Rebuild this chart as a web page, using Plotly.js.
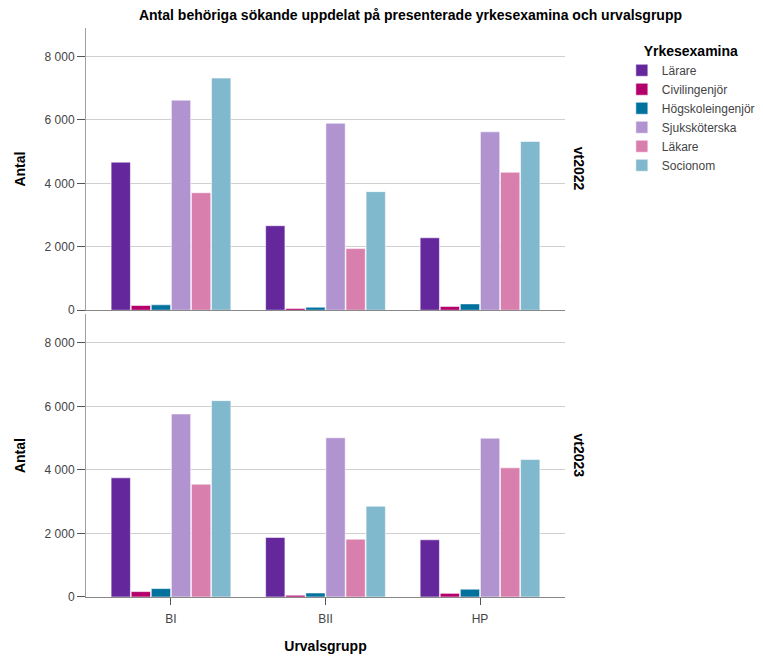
<!DOCTYPE html>
<html>
<head>
<meta charset="utf-8">
<script src="https://cdn.plot.ly/plotly-3.0.1.min.js"></script>
<style>html,body{margin:0;padding:0;background:#fff;}#chart{width:763px;height:659px;}</style>
</head>
<body>
<div id="chart"></div>
<script>
// Data
const categories = ["BI", "BII", "HP"];
const seriesNames = ["Lärare", "Civilingenjör", "Högskoleingenjör", "Sjuksköterska", "Läkare", "Socionom"];
const seriesColors = ["#64279c", "#b4006a", "#00729d", "#b193d0", "#d87fae", "#80b8ce"];
const panels = ["vt2022", "vt2023"];

const lärare_vt2022 = [4670, 2665, 2285];
const civilingenjör_vt2022 = [150, 55, 120];
const högskoleingenjör_vt2022 = [170, 95, 200];
const sjuksköterska_vt2022 = [6625, 5895, 5625];
const läkare_vt2022 = [3705, 1945, 4350];
const socionom_vt2022 = [7320, 3740, 5320];

const lärare_vt2023 = [3750, 1875, 1800];
const civilingenjör_vt2023 = [170, 55, 115];
const högskoleingenjör_vt2023 = [265, 125, 245];
const sjuksköterska_vt2023 = [5760, 5010, 5000];
const läkare_vt2023 = [3550, 1820, 4065];
const socionom_vt2023 = [6180, 2855, 4325];

const values2022 = [lärare_vt2022, civilingenjör_vt2022, högskoleingenjör_vt2022, sjuksköterska_vt2022, läkare_vt2022, socionom_vt2022];
const values2023 = [lärare_vt2023, civilingenjör_vt2023, högskoleingenjör_vt2023, sjuksköterska_vt2023, läkare_vt2023, socionom_vt2023];

const font = "Liberation Sans, Arial, sans-serif";
const traces = [];
seriesNames.forEach((name, i) => {
  traces.push({
    type: "bar", name: name, x: categories, y: values2022[i],
    xaxis: "x2", yaxis: "y2", legendgroup: name, showlegend: true,
    marker: {color: seriesColors[i], line: {color: "rgba(255,255,255,0.55)", width: 1}},
    hoverinfo: "skip"
  });
  traces.push({
    type: "bar", name: name, x: categories, y: values2023[i],
    xaxis: "x", yaxis: "y", legendgroup: name, showlegend: false,
    marker: {color: seriesColors[i], line: {color: "rgba(255,255,255,0.55)", width: 1}},
    hoverinfo: "skip"
  });
});

const yCommon = {
  range: [0, 8900], tickvals: [0, 2000, 4000, 6000, 8000],
  ticktext: ["0", "2 000", "4 000", "6 000", "8 000"],
  showgrid: true, gridcolor: "#cfcfcf", gridwidth: 1,
  showline: true, linecolor: "#a0a0a0", linewidth: 1,
  ticks: "outside", ticklen: 8, tickcolor: "#555", tickwidth: 1,
  zeroline: false,
  tickfont: {family: font, size: 12, color: "#444"},
  title: {text: "Antal", font: {family: font, size: 14, color: "#000", weight: "bold"}, standoff: 15}
};
const xCommon = {
  type: "category", range: [-0.55, 2.55],
  showline: true, linecolor: "#888", linewidth: 1,
  ticks: "outside", ticklen: 7, tickcolor: "#555",
  tickfont: {family: font, size: 12, color: "#444"},
  showgrid: false, zeroline: false
};

const layout = {
  width: 763, height: 659,
  margin: {l: 86, r: 198, t: 28, b: 62},
  paper_bgcolor: "#fff", plot_bgcolor: "#fff",
  font: {family: font, color: "#000"},
  barmode: "group", bargap: 0.22, bargroupgap: 0.04,
  title: {text: "<b>Antal behöriga sökande uppdelat på presenterade yrkesexamina och urvalsgrupp</b>",
          font: {family: font, size: 14, color: "#000"}, x: 0.538, xanchor: "center", y: 0.985, yanchor: "top"},
  xaxis: Object.assign({}, xCommon, {anchor: "y", domain: [0, 1], ticklabelstandoff: 4,
          title: {text: "Urvalsgrupp", font: {family: font, size: 14, color: "#000", weight: "bold"}, standoff: 15}}),
  xaxis2: Object.assign({}, xCommon, {anchor: "y2", domain: [0, 1], showticklabels: false, ticks: "", matches: "x"}),
  yaxis: Object.assign({}, yCommon, {anchor: "x", domain: [0, 0.497]}),
  yaxis2: Object.assign({}, yCommon, {anchor: "x2", domain: [0.504, 1]}),
  legend: {
    xref: "container", yref: "container",
    x: 0.815, xanchor: "left", y: 0.943, yanchor: "top",
    title: {text: "<b>Yrkesexamina</b>", font: {family: font, size: 14, color: "#000"}, side: "top center"},
    font: {family: font, size: 12, color: "#444"},
    tracegroupgap: 0, itemwidth: 30, traceorder: "normal"
  },
  annotations: [
    {text: "<b>" + panels[0] + "</b>", xref: "paper", yref: "paper", x: 1.03, y: 0.752, textangle: 90,
     showarrow: false, font: {family: font, size: 14, color: "#000"}, xanchor: "center", yanchor: "middle"},
    {text: "<b>" + panels[1] + "</b>", xref: "paper", yref: "paper", x: 1.03, y: 0.248, textangle: 90,
     showarrow: false, font: {family: font, size: 14, color: "#000"}, xanchor: "center", yanchor: "middle"}
  ]
};

Plotly.newPlot("chart", traces, layout, {displayModeBar: false, staticPlot: true});
</script>
</body>
</html>
